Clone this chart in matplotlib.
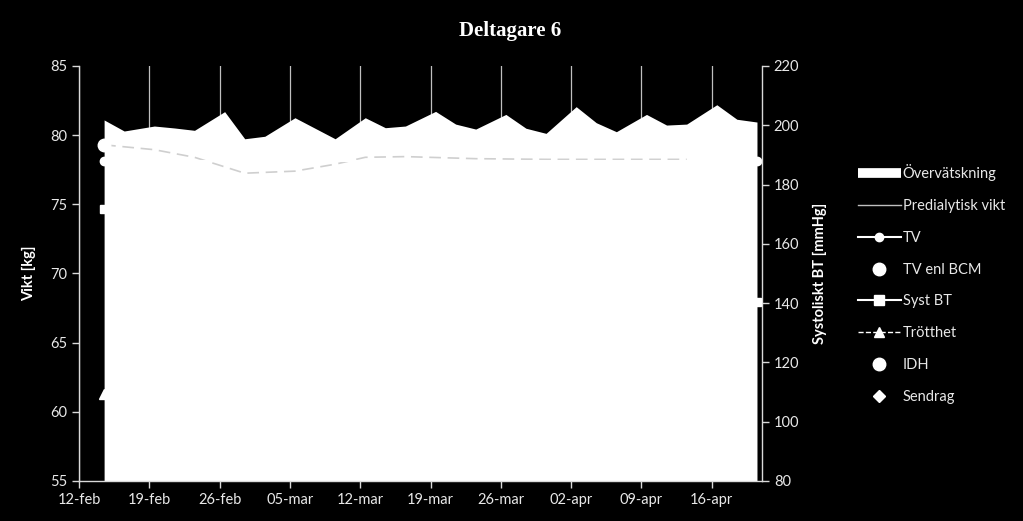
import matplotlib.pyplot as plt
from matplotlib.lines import Line2D

plt.rcParams['font.family'] = ['Lato', 'DejaVu Sans']

# x = days after 12-feb
tick_days = [0, 7, 14, 21, 28, 35, 42, 49, 56, 63]
tick_labels = ['12-feb', '19-feb', '26-feb', '05-mar', '12-mar', '19-mar',
               '26-mar', '02-apr', '09-apr', '16-apr']

ov_days = [2, 4, 7, 9, 11, 14, 16, 18, 21, 25, 28, 30, 32, 35, 37, 39, 42, 44,
           46, 49, 51, 53, 56, 58, 60, 63, 65, 67]
ov_vals = [81.1, 80.3, 80.66, 80.52, 80.35, 81.7, 79.74, 79.92, 81.26, 79.74,
           81.26, 80.54, 80.66, 81.72, 80.8, 80.44, 81.5, 80.5, 80.13, 82.06,
           80.9, 80.25, 81.5, 80.73, 80.8, 82.2, 81.15, 80.95]

pre_days = [2, 7, 11, 16, 21, 25, 28, 32, 39, 46, 53, 60]
pre_vals = [79.3, 78.95, 78.4, 77.25, 77.4, 77.9, 78.4, 78.45, 78.3, 78.25, 78.25, 78.25]

tv_days = [2, 67]
tv_vals = [78.1, 78.1]
bcm_days = [2]
bcm_vals = [79.3]
bt_days = [2, 67]
bt_vals = [171.7, 140.3]
trott_days = [2]
trott_vals = [61.3]

off = 0.5  # points sit in the middle of the day
fg = '#d9d9d9'

fig = plt.figure(figsize=(10.23, 5.21), dpi=100, facecolor='black')
ax = fig.add_axes([79/1023, 1-481/521, 683/1023, 415/521])
ax.set_facecolor('black')
ax2 = ax.twinx()

ax.fill_between([d + off for d in ov_days], 55, ov_vals, color='white', lw=0, zorder=2)
ax.plot([d + off for d in pre_days], pre_vals, color='#cfcfcf', lw=1.2,
        dashes=(7, 4), zorder=3)
ax.plot([d + off for d in tv_days], tv_vals, color='white', lw=1.5, marker='o',
        ms=6, zorder=4)
ax.plot([d + off for d in bcm_days], bcm_vals, ls='none', color='white', marker='o',
        ms=9, zorder=4)
ax.plot([d + off for d in trott_days], trott_vals, color='white', ls='--',
        marker='^', ms=7, zorder=4)
ax2.plot([d + off for d in bt_days], bt_vals, color='white', lw=1.5, marker='s',
         ms=6, zorder=4)

ax.set_xlim(0, 68)
ax.set_ylim(55, 85)
ax2.set_ylim(80, 220)
ax.set_yticks(range(55, 86, 5))
ax2.set_yticks(range(80, 221, 20))
ax.set_xticks(tick_days)
ax.set_xticklabels(tick_labels)
ax.grid(axis='x', color='#bfbfbf', lw=0.9)
ax.set_axisbelow(True)

for a in (ax, ax2):
    a.spines['top'].set_visible(False)
    for s in ('left', 'right', 'bottom'):
        a.spines[s].set_color(fg)
        a.spines[s].set_linewidth(1.0)
    a.tick_params(colors=fg, labelcolor='#e8e8e8', labelsize=10.5, length=5,
                  width=1.0, direction='out')
ax.spines['right'].set_visible(False)
ax2.spines['left'].set_visible(False)
ax2.spines['bottom'].set_visible(False)

ax.set_ylabel('Vikt [kg]', color='white', fontsize=10.5, fontweight='bold', labelpad=10)
ax2.set_ylabel('Systoliskt BT [mmHg]', color='white', fontsize=10.5,
               fontweight='bold', labelpad=10)

fig.text(0.499, 1-31/521, 'Deltagare 6', color='white', fontsize=15,
         fontweight='bold', family='Liberation Serif', ha='center', va='center')

handles = [
    Line2D([], [], color='white', lw=7, solid_capstyle='butt'),
    Line2D([], [], color='#bfbfbf', lw=1.0),
    Line2D([], [], color='white', lw=1.5, marker='o', ms=6),
    Line2D([], [], color='white', ls='none', marker='o', ms=9),
    Line2D([], [], color='white', lw=1.5, marker='s', ms=7),
    Line2D([], [], color='white', lw=1.0, ls='--', marker='^', ms=7),
    Line2D([], [], color='white', ls='none', marker='o', ms=9),
    Line2D([], [], color='white', ls='none', marker='D', ms=6),
]
labels = ['Övervätskning', 'Predialytisk vikt', 'TV', 'TV enl BCM', 'Syst BT',
          'Trötthet', 'IDH', 'Sendrag']
leg = fig.legend(handles, labels, loc='upper left',
                 bbox_to_anchor=(851/1023, 1-157/521), frameon=False,
                 fontsize=10.5, labelcolor='#e8e8e8', handlelength=2.9,
                 handletextpad=0.15, labelspacing=1.22, borderpad=0)

fig.savefig('out.png', dpi=100, facecolor='black')
